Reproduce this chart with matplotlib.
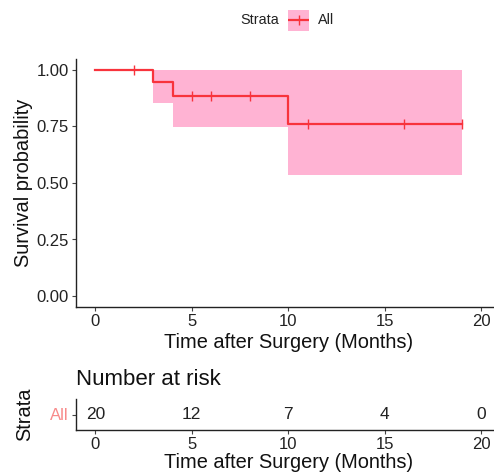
import matplotlib
matplotlib.use("Agg")
import matplotlib.pyplot as plt
import numpy as np

# Data
step_times = [0, 3, 4, 10, 19]
surv = [1.0, 0.945, 0.885, 0.76, 0.76]
ci_upper = [1.0, 1.0, 1.0, 1.0, 1.0]
ci_lower = [1.0, 0.855, 0.746, 0.535, 0.535]
censor_times = [2, 5, 6, 8, 11, 16, 19]
risk_times = [0, 5, 10, 15, 20]
risk_counts = [20, 12, 7, 4, 0]
xticks = [0, 5, 10, 15, 20]
yticks = [0.0, 0.25, 0.5, 0.75, 1.0]
ytick_labels = ["0.00", "0.25", "0.50", "0.75", "1.00"]

LINE = "#F8333C"
BAND = "#FFB3D3"
FONT = ["Liberation Sans", "DejaVu Sans"]
plt.rcParams['font.family'] = FONT

W, H = 494, 473
fig = plt.figure(figsize=(W / 100, H / 100), dpi=100)

def box(l, t, r, b):
    return [l / W, 1 - b / H, (r - l) / W, (b - t) / H]

ax = fig.add_axes(box(76, 58.7, 500.6, 307.3))
ax.fill_between(step_times, ci_lower, ci_upper, step='post', color=BAND, lw=0)
ax.step(step_times, surv, where='post', color=LINE, lw=1.6)
cens_s = [surv[np.searchsorted(step_times, t, side='right') - 1] for t in censor_times]
ax.plot(censor_times, cens_s, ls='none', marker='|', ms=7, mew=1.0, color=LINE)
ax.set_xlim(-1, 21)
ax.set_ylim(-0.05, 1.05)
ax.set_xticks(xticks)
ax.set_yticks(yticks)
ax.set_yticklabels(ytick_labels)
for s in ['top', 'right']:
    ax.spines[s].set_visible(False)
for s in ['left', 'bottom']:
    ax.spines[s].set_linewidth(1.0)
    ax.spines[s].set_color('#222222')
ax.tick_params(labelsize=12, length=3, width=0.8, color='#444444', labelcolor='#222222', pad=2)
ax.set_xlabel("Time after Surgery (Months)", fontsize=14.4, color='#111111', labelpad=3)
ax.set_ylabel("Survival probability", fontsize=14.4, color='#111111', labelpad=3)

# Legend
fig.text(240 / W, 1 - 20 / H, "Strata", fontsize=10.4, va='center', ha='left', color='#222222')
lax = fig.add_axes(box(288, 10, 309, 31))
lax.set_xlim(0, 1); lax.set_ylim(0, 1)
lax.axis('off')
lax.add_patch(plt.Rectangle((0, 0), 1, 1, color=BAND, lw=0))
lax.plot([0.05, 0.95], [0.5, 0.5], color=LINE, lw=1.6)
lax.plot([0.5], [0.5], marker='|', ms=7, mew=1.0, color=LINE)
fig.text(318 / W, 1 - 20 / H, "All", fontsize=10.4, va='center', ha='left', color='#222222')

# Risk table
rax = fig.add_axes(box(76, 399, 500.6, 430))
rax.set_xlim(-1, 21)
rax.set_ylim(0.5, 1.5)
for t, c in zip(risk_times, risk_counts):
    rax.text(t, 1, str(c), ha='center', va='center', fontsize=12.5, color='#222222')
rax.set_xticks(xticks)
rax.set_yticks([1])
rax.set_yticklabels(["All"], color='#F88A8A', fontsize=9)
for s in ['top', 'right']:
    rax.spines[s].set_visible(False)
for s in ['left', 'bottom']:
    rax.spines[s].set_linewidth(1.0)
    rax.spines[s].set_color('#222222')
rax.tick_params(labelsize=12, length=3, width=0.8, color='#444444', pad=2)
rax.tick_params(axis='x', labelcolor='#222222')
rax.set_xlabel("Time after Surgery (Months)", fontsize=14.4, color='#111111', labelpad=1)
rax.set_ylabel("Strata", fontsize=14.4, color='#111111', labelpad=12)
rax.set_title("Number at risk", fontsize=16, loc='left', x=0.0, pad=10, color='#111111')

fig.savefig("out.png", dpi=100)
